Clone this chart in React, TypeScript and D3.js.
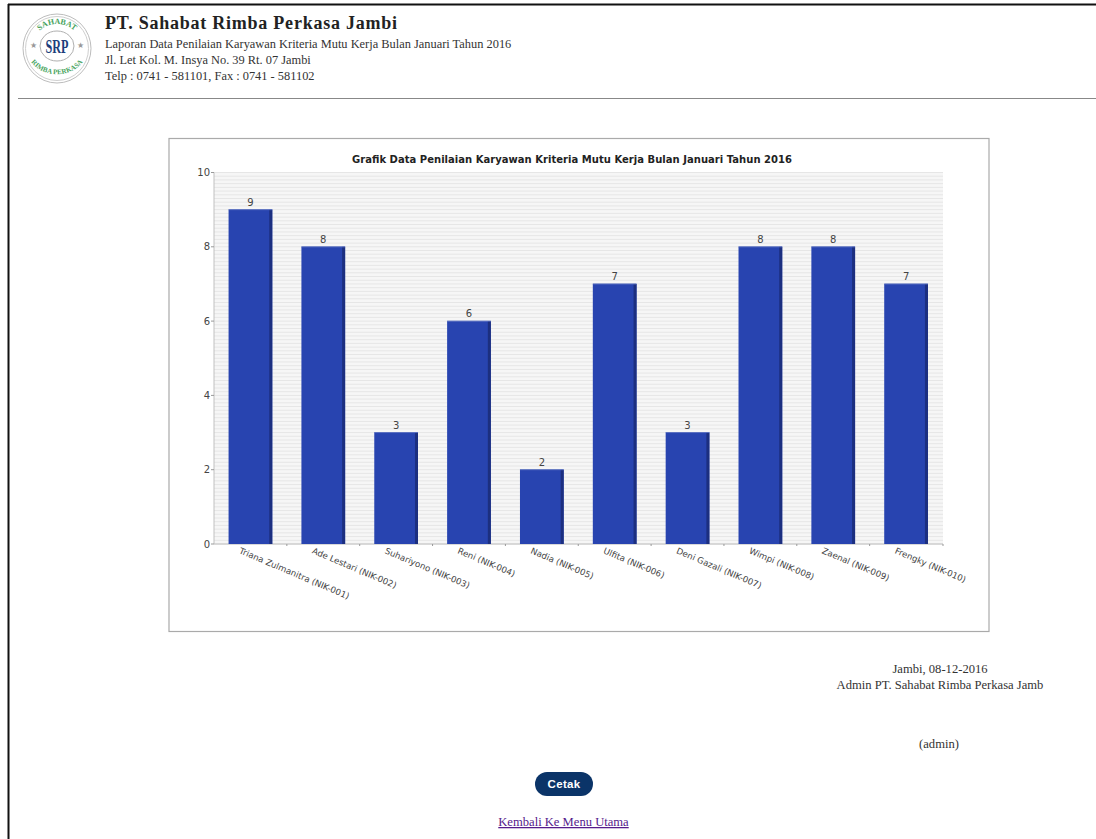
import React from "react";
import * as d3 from "d3";

const categories = ["Triana Zulmanitra (NIK-001)", "Ade Lestari (NIK-002)", "Suhariyono (NIK-003)", "Reni (NIK-004)", "Nadia (NIK-005)", "Ulfita (NIK-006)", "Deni Gazali (NIK-007)", "Wimpi (NIK-008)", "Zaenal (NIK-009)", "Frengky (NIK-010)"];
const values = [9, 8, 3, 6, 2, 7, 3, 8, 8, 7];
const yTicks = [0, 2, 4, 6, 8, 10];
const stripes = d3.range(0, 101).map((i) => i * 0.1);

const serif = '"Liberation Serif", serif';
const sans = '"DejaVu Sans", sans-serif';

export default function App() {
  const plot = { l: 214, r: 943, t: 172.5, b: 544 };
  const x = d3.scaleBand<string>().domain(categories).range([plot.l, plot.r - 0.5]).paddingInner(0.4).paddingOuter(0.2);
  const y = d3.scaleLinear().domain([0, 10]).range([plot.b, plot.t]);
  return (
    <svg width={1096} height={839} style={{ position: "absolute", left: 0, top: 0, background: "#fff" }}>
      <defs>
        <path id="arcTop" d="M 31 50 A 26 26 0 0 1 83 50" fill="none" />
        <path id="arcBot" d="M 27 54 A 31 27 0 0 0 87 54" fill="none" />
      </defs>
      <rect x={0} y={0} width={1096} height={839} fill="#fff" />
      <line x1={8.5} x2={8.5} y1={4} y2={839} stroke="#111" strokeWidth={2} />
      <line x1={8} x2={1096} y1={4.5} y2={4.5} stroke="#111" strokeWidth={2} />
      <line x1={18} x2={1096} y1={98.5} y2={98.5} stroke="#888" strokeWidth={1.2} />

      <g>
        <ellipse cx={57} cy={48.5} rx={34} ry={34.5} fill="#fff" stroke="#bdbdbd" strokeWidth={1} />
        <ellipse cx={57} cy={48.5} rx={31.5} ry={32} fill="#fff" stroke="#cfcfcf" strokeWidth={1} />
        <ellipse cx={57} cy={46} rx={17} ry={15} fill="#fff" stroke="#b0b0b0" strokeWidth={1} />
        <text x={57} y={53} textAnchor="middle" fontFamily={serif} fontWeight="bold" fontSize={18} fill="#1d3f7c" textLength={23} lengthAdjust="spacingAndGlyphs">SRP</text>
        <text fontFamily={serif} fontWeight="bold" fontSize={8} fill="#46a35c"><textPath href="#arcTop" startOffset="50%" textAnchor="middle">SAHABAT</textPath></text>
        <text fontFamily={serif} fontWeight="bold" fontSize={7} fill="#46a35c"><textPath href="#arcBot" startOffset="50%" textAnchor="middle">RIMBA PERKASA</textPath></text>
        <text x={33.5} y={48} textAnchor="middle" fontSize={8} fill="#999">★</text>
        <text x={80.5} y={48} textAnchor="middle" fontSize={8} fill="#999">★</text>
      </g>

      <text x={105} y={29} fontFamily={serif} fontWeight="bold" fontSize={18} fill="#222" textLength={292} lengthAdjust="spacing">PT. Sahabat Rimba Perkasa Jambi</text>
      <g fontFamily={serif} fontSize={12.4} fill="#333">
        <text x={105} y={48}>Laporan Data Penilaian Karyawan Kriteria Mutu Kerja Bulan Januari Tahun 2016</text>
        <text x={105} y={64}>Jl. Let Kol. M. Insya No. 39 Rt. 07 Jambi</text>
        <text x={105} y={80}>Telp : 0741 - 581101, Fax : 0741 - 581102</text>
      </g>

      <rect x={169} y={138.5} width={820} height={493} fill="#fff" stroke="#aaa" strokeWidth={1.2} />
      <text x={572} y={163} textAnchor="middle" fontFamily={sans} fontWeight="bold" fontSize={10} fill="#222" textLength={440}>Grafik Data Penilaian Karyawan Kriteria Mutu Kerja Bulan Januari Tahun 2016</text>

      <rect x={plot.l} y={plot.t} width={plot.r - plot.l} height={plot.b - plot.t} fill="#f6f6f6" />
      {stripes.map((v) => (
        <line key={v} x1={plot.l} x2={plot.r} y1={y(v)} y2={y(v)} stroke="#e6e6e6" strokeWidth={1} />
      ))}
      <line x1={plot.l} x2={plot.l} y1={plot.t} y2={plot.b} stroke="#c0c0c0" strokeWidth={1} />
      <line x1={plot.l} x2={plot.r} y1={plot.b} y2={plot.b} stroke="#c0c0c0" strokeWidth={1} />

      {yTicks.map((t) => (
        <g key={t}>
          <line x1={plot.l - 3} x2={plot.l} y1={y(t)} y2={y(t)} stroke="#999" />
          <text x={plot.l - 4} y={y(t) + 3.5} textAnchor="end" fontFamily={sans} fontSize={10} fill="#444">{t}</text>
        </g>
      ))}

      {categories.map((c, i) => {
        const bx = x(c) as number;
        const w = x.bandwidth();
        const top = y(values[i]);
        return (
          <g key={c}>
            <rect x={bx} y={top} width={w} height={plot.b - top} fill="#2844b0" />
            <rect x={bx + w - 3} y={top} width={3} height={plot.b - top} fill="#1c2f80" />
            <rect x={bx} y={top - 0.5} width={w} height={1} fill="#5a70c0" />
            <text x={bx + w / 2} y={top - 4} textAnchor="middle" fontFamily={sans} fontSize={10} fill="#444">{values[i]}</text>
            {i > 0 && <line x1={bx - x.step() * 0.2} x2={bx - x.step() * 0.2} y1={plot.b} y2={plot.b + 2} stroke="#999" />}
            <text x={bx + 10} y={plot.b + 9} fontFamily={sans} fontSize={8.6} fill="#444" transform={`rotate(23 ${bx + 10} ${plot.b + 9})`}>{c}</text>
          </g>
        );
      })}
      <line x1={plot.r} x2={plot.r} y1={plot.b} y2={plot.b + 2} stroke="#999" />

      <g fontFamily={serif} fontSize={12.6} fill="#333" textAnchor="middle">
        <text x={940} y={673}>Jambi, 08-12-2016</text>
        <text x={940} y={689}>Admin PT. Sahabat Rimba Perkasa Jamb</text>
        <text x={939} y={748}>(admin)</text>
      </g>

      <rect x={535} y={772} width={58} height={24} rx={12} fill="#0b3468" />
      <text x={564} y={788} textAnchor="middle" fontFamily='"Liberation Sans", sans-serif' fontWeight="bold" fontSize={11.5} letterSpacing={0.3} fill="#fff">Cetak</text>

      <text x={563.5} y={826} textAnchor="middle" fontFamily={serif} fontSize={12.6} fill="#551a8b" textDecoration="underline">Kembali Ke Menu Utama</text>
    </svg>
  );
}
